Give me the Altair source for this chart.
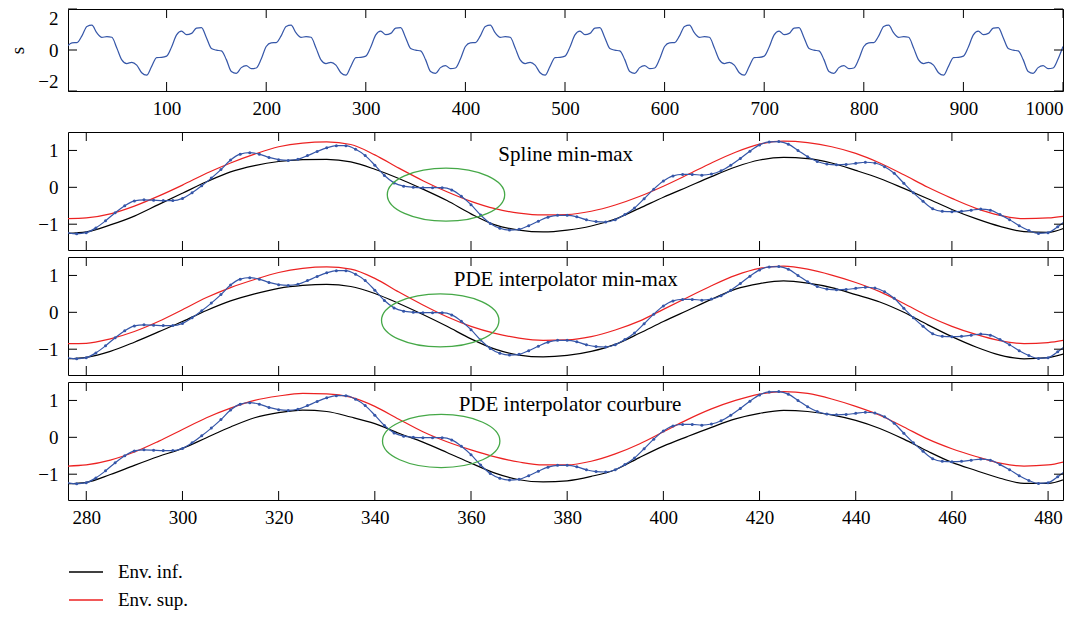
import altair as alt
import pandas as pd

FONT = "Liberation Serif"
BLUE = "#3556a8"
RED = "#ec2222"
BLACK = "#000000"
GREEN = "#45a847"

# ---------------- top panel : signal s, t = 0, 5, ..., 1000 ----------------
top_s_000 = [0.17, 0.35, 0.36, 0.69, 1.15, 1.21, 0.83, 0.62, 0.65, 0.62,
             0.10, -0.48, -0.66, -0.60, -0.74, -1.11, -1.23, -0.80, -0.37, -0.36,
             -0.30, 0.15, 0.74, 0.92, 0.75, 0.81, 1.07, 1.09, 0.60, 0.07,
             -0.01, -0.04, -0.47, -1.05, -1.14, -0.86, -0.76, -0.91, -0.88, -0.44]
top_s_200 = [0.17, 0.35, 0.36, 0.69, 1.15, 1.21, 0.83, 0.62, 0.65, 0.62,
             0.10, -0.48, -0.66, -0.60, -0.74, -1.11, -1.23, -0.80, -0.37, -0.36,
             -0.30, 0.15, 0.74, 0.92, 0.75, 0.81, 1.07, 1.09, 0.60, 0.07,
             -0.01, -0.04, -0.47, -1.05, -1.14, -0.86, -0.76, -0.91, -0.88, -0.44]
top_s_400 = [0.17, 0.35, 0.36, 0.69, 1.15, 1.21, 0.83, 0.62, 0.65, 0.62,
             0.10, -0.48, -0.66, -0.60, -0.74, -1.11, -1.23, -0.80, -0.37, -0.36,
             -0.30, 0.15, 0.74, 0.92, 0.75, 0.81, 1.07, 1.09, 0.60, 0.07,
             -0.01, -0.04, -0.47, -1.05, -1.14, -0.86, -0.76, -0.91, -0.88, -0.44]
top_s_600 = [0.17, 0.35, 0.36, 0.69, 1.15, 1.21, 0.83, 0.62, 0.65, 0.62,
             0.10, -0.48, -0.66, -0.60, -0.74, -1.11, -1.23, -0.80, -0.37, -0.36,
             -0.30, 0.15, 0.74, 0.92, 0.75, 0.81, 1.07, 1.09, 0.60, 0.07,
             -0.01, -0.04, -0.47, -1.05, -1.14, -0.86, -0.76, -0.91, -0.88, -0.44]
top_s_800 = [0.17, 0.35, 0.36, 0.69, 1.15, 1.21, 0.83, 0.62, 0.65, 0.62,
             0.10, -0.48, -0.66, -0.60, -0.74, -1.11, -1.23, -0.80, -0.37, -0.36,
             -0.30, 0.15, 0.74, 0.92, 0.75, 0.81, 1.07, 1.09, 0.60, 0.07,
             -0.01, -0.04, -0.47, -1.05, -1.14, -0.86, -0.76, -0.91, -0.88, -0.44]
top_s_1000 = [0.17]
top_t = list(range(0, 1001, 5))
top_xticks = [100, 200, 300, 400, 500, 600, 700, 800, 900, 1000]
top_yticks = [-2, 0, 2]

# ---------------- zoomed panels ----------------
zoom_t = list(range(276, 485, 2))
zoom_s = [-1.23, -1.26, -1.23, -1.10, -0.91, -0.69, -0.50, -0.37, -0.34, -0.35,
          -0.36, -0.36, -0.30, -0.15, 0.04, 0.25, 0.48, 0.74, 0.90, 0.94,
          0.90, 0.81, 0.75, 0.73, 0.76, 0.86, 0.97, 1.07, 1.13, 1.13,
          1.03, 0.86, 0.60, 0.32, 0.12, 0.03, 0.00, -0.01, -0.01, -0.01,
          -0.07, -0.24, -0.47, -0.75, -0.98, -1.11, -1.16, -1.14, -1.04, -0.92,
          -0.81, -0.76, -0.76, -0.80, -0.88, -0.93, -0.94, -0.88, -0.74, -0.56,
          -0.31, -0.05, 0.17, 0.31, 0.35, 0.35, 0.33, 0.36, 0.45, 0.60,
          0.78, 0.98, 1.15, 1.23, 1.24, 1.17, 1.00, 0.83, 0.70, 0.63,
          0.61, 0.62, 0.65, 0.68, 0.66, 0.56, 0.38, 0.11, -0.15, -0.38,
          -0.58, -0.65, -0.66, -0.65, -0.62, -0.59, -0.62, -0.74, -0.88, -1.04,
          -1.17, -1.25, -1.23, -1.07, -0.86]

env_t = [276, 280, 285, 290, 295, 300, 305, 310, 315, 320, 325, 330, 335, 340,
         345, 350, 355, 360, 365, 370, 375, 380, 385, 390, 395, 400, 405, 410,
         415, 420, 425, 430, 435, 440, 445, 450, 455, 460, 465, 470, 475, 480, 484]

spline_inf = [-1.25, -1.21, -1.02, -0.78, -0.47, -0.16, 0.15, 0.42, 0.59, 0.70,
              0.75, 0.76, 0.69, 0.49, 0.24, -0.05, -0.36, -0.72, -1.02, -1.16,
              -1.21, -1.16, -1.05, -0.86, -0.57, -0.27, 0.01, 0.29, 0.55, 0.74,
              0.81, 0.78, 0.66, 0.46, 0.24, -0.03, -0.31, -0.60, -0.85, -1.06,
              -1.20, -1.22, -1.07]
spline_sup = [-0.85, -0.83, -0.72, -0.51, -0.24, 0.06, 0.38, 0.66, 0.90, 1.10,
              1.20, 1.23, 1.16, 0.88, 0.52, 0.18, -0.12, -0.38, -0.58, -0.70,
              -0.75, -0.74, -0.65, -0.48, -0.25, 0.03, 0.34, 0.66, 0.95, 1.17,
              1.25, 1.21, 1.10, 0.92, 0.66, 0.34, 0.00, -0.30, -0.57, -0.76,
              -0.85, -0.83, -0.77]
pde_inf = [-1.26, -1.22, -1.06, -0.81, -0.53, -0.25, 0.05, 0.31, 0.50, 0.65,
           0.73, 0.76, 0.70, 0.51, 0.24, -0.06, -0.38, -0.72, -1.00, -1.16,
           -1.21, -1.17, -1.06, -0.87, -0.57, -0.25, 0.05, 0.35, 0.63, 0.78,
           0.85, 0.79, 0.67, 0.48, 0.28, 0.00, -0.34, -0.66, -0.94, -1.16,
           -1.26, -1.23, -1.10]
pde_sup = [-0.85, -0.84, -0.72, -0.52, -0.25, 0.07, 0.40, 0.67, 0.89, 1.08,
           1.19, 1.23, 1.17, 0.92, 0.55, 0.20, -0.12, -0.38, -0.57, -0.70,
           -0.76, -0.75, -0.66, -0.48, -0.24, 0.08, 0.40, 0.72, 1.00, 1.19,
           1.25, 1.17, 1.01, 0.81, 0.56, 0.24, -0.10, -0.38, -0.60, -0.77,
           -0.85, -0.82, -0.74]
courb_inf = [-1.26, -1.22, -1.01, -0.76, -0.52, -0.30, -0.01, 0.28, 0.53, 0.67,
             0.74, 0.70, 0.55, 0.37, 0.11, -0.13, -0.41, -0.70, -0.97, -1.15,
             -1.21, -1.18, -1.06, -0.88, -0.55, -0.24, 0.02, 0.27, 0.50, 0.65,
             0.73, 0.70, 0.61, 0.46, 0.24, -0.05, -0.38, -0.68, -0.90, -1.11,
             -1.25, -1.25, -1.11]
courb_sup = [-0.78, -0.75, -0.62, -0.40, -0.11, 0.21, 0.53, 0.79, 1.00, 1.12,
             1.19, 1.18, 1.09, 0.84, 0.49, 0.15, -0.12, -0.34, -0.53, -0.67,
             -0.75, -0.75, -0.65, -0.45, -0.18, 0.15, 0.48, 0.77, 1.00, 1.17,
             1.24, 1.19, 1.04, 0.84, 0.60, 0.28, -0.05, -0.31, -0.52, -0.70,
             -0.78, -0.75, -0.64]

ellipse_t = [354.8, 353.6, 353.8]
ellipse_s = [-0.20, -0.22, -0.10]
zoom_xticks = [280, 300, 320, 340, 360, 380, 400, 420, 440, 460, 480]
zoom_yticks = [-1, 0, 1]
panel_titles = ["Spline min-max", "PDE interpolator min-max", "PDE interpolator courbure"]
title_t = [379.7, 379.7, 380.6]
title_s = [0.72, 0.72, 0.71]
legend_labels = ["Env. inf.", "Env. sup."]

# ---------------- geometry / style ----------------
W = 995
H_TOP = 82
H_LOW = 118
TICK = 9
ELL_PATH = "M-1,0A1,0.452,0,1,0,1,0A1,0.452,0,1,0,-1,0Z"
ELL_SIZE = 13783


def tick_layers(X, Y, xticks, yticks, h):
    xt = pd.DataFrame({"t": xticks})
    yt = pd.DataFrame({"s": yticks})
    base_x = alt.Chart(xt).mark_rule(color="black", strokeWidth=1)
    base_y = alt.Chart(yt).mark_rule(color="black", strokeWidth=1)
    return [
        base_x.encode(x=X, y=alt.value(0), y2=alt.value(TICK)),
        base_x.encode(x=X, y=alt.value(h), y2=alt.value(h - TICK)),
        base_y.encode(y=Y, x=alt.value(0), x2=alt.value(TICK)),
        base_y.encode(y=Y, x=alt.value(W), x2=alt.value(W - TICK)),
    ]


# top panel
top_df = pd.DataFrame({"t": top_t,
                       "s": top_s_000 + top_s_200 + top_s_400 + top_s_600 + top_s_800 + top_s_1000})
Xt = alt.X("t:Q", scale=alt.Scale(domain=[1, 1000], nice=False, zero=False),
           axis=alt.Axis(values=top_xticks, title=None, labelPadding=8, format="d"))
Yt = alt.Y("s:Q", scale=alt.Scale(domain=[-2, 2], nice=False, zero=False),
           axis=alt.Axis(values=top_yticks, title="s", labelPadding=10, labelFlush=True,
                         titlePadding=10))
top_line = alt.Chart(top_df).mark_line(color=BLUE, strokeWidth=1.2, interpolate="monotone",
                                       clip=True).encode(x=Xt, y=Yt)
top = alt.layer(top_line, *tick_layers(Xt, Yt, top_xticks, top_yticks, H_TOP)).properties(
    width=W, height=H_TOP)


def zoom_panel(i, inf, sup, show_x, show_legend):
    xs = alt.Scale(domain=[276.2, 483.1], nice=False, zero=False)
    ys = alt.Scale(domain=[-1.7, 1.5], nice=False, zero=False)
    if show_x:
        X = alt.X("t:Q", scale=xs, axis=alt.Axis(values=zoom_xticks, title=None, labelPadding=8, format="d"))
    else:
        X = alt.X("t:Q", scale=xs, axis=None)
    Y = alt.Y("s:Q", scale=ys, axis=alt.Axis(values=zoom_yticks, title=None, labelPadding=10))
    env_df = pd.DataFrame({
        "t": env_t + env_t,
        "s": inf + sup,
        "series": [legend_labels[0]] * len(env_t) + [legend_labels[1]] * len(env_t),
    })
    if show_legend:
        leg = alt.Legend(title=None, orient="none", legendX=0, legendY=172, symbolType="stroke",
                         symbolSize=1156, symbolStrokeWidth=1.3, labelFont=FONT, labelFontSize=19,
                         labelColor="black", labelOffset=14, rowPadding=0, padding=0)
    else:
        leg = None
    color = alt.Color("series:N", scale=alt.Scale(domain=legend_labels, range=[BLACK, RED]), legend=leg)
    env = alt.Chart(env_df).mark_line(strokeWidth=1.2, interpolate="monotone", clip=True).encode(
        x=X, y=Y, color=color)
    sig_df = pd.DataFrame({"t": zoom_t, "s": zoom_s})
    sig = alt.Chart(sig_df).mark_line(
        color=BLUE, strokeWidth=1.2, interpolate="monotone", clip=True,
        point=alt.OverlayMarkDef(color=BLUE, filled=True, size=9, clip=True)).encode(x=X, y=Y)
    ell_df = pd.DataFrame({"t": [ellipse_t[i]], "s": [ellipse_s[i]]})
    ell = alt.Chart(ell_df).mark_point(shape=ELL_PATH, size=ELL_SIZE, filled=False, color=GREEN,
                                       strokeWidth=1.3, opacity=1).encode(x=X, y=Y)
    ttl_df = pd.DataFrame({"t": [title_t[i]], "s": [title_s[i]], "label": [panel_titles[i]]})
    ttl = alt.Chart(ttl_df).mark_text(font=FONT, fontSize=21, color="black", align="center",
                                      baseline="alphabetic").encode(x=X, y=Y, text="label:N")
    return alt.layer(env, sig, ell, ttl, *tick_layers(X, Y, zoom_xticks, zoom_yticks, H_LOW)).properties(
        width=W, height=H_LOW)


p2 = zoom_panel(0, spline_inf, spline_sup, False, False)
p3 = zoom_panel(1, pde_inf, pde_sup, False, False)
p4 = zoom_panel(2, courb_inf, courb_sup, True, True)

inner = alt.vconcat(p2, p3, p4, spacing=5).resolve_scale(color="independent")
chart = alt.vconcat(top, inner, spacing=12).resolve_scale(color="independent").properties(
    padding={"left": 0, "top": 0, "right": 0, "bottom": 0}, background="white"
).configure_view(stroke="black", strokeWidth=1).configure_axis(
    labelFont=FONT, labelFontSize=19, labelColor="black", titleFont=FONT, titleFontSize=19,
    titleColor="black", titleFontWeight="normal", ticks=False, domain=False, grid=False
).configure_title(font=FONT, fontSize=21, fontWeight="normal", color="black")

chart.save("out.html", embed_options={"renderer": "svg", "actions": False})
